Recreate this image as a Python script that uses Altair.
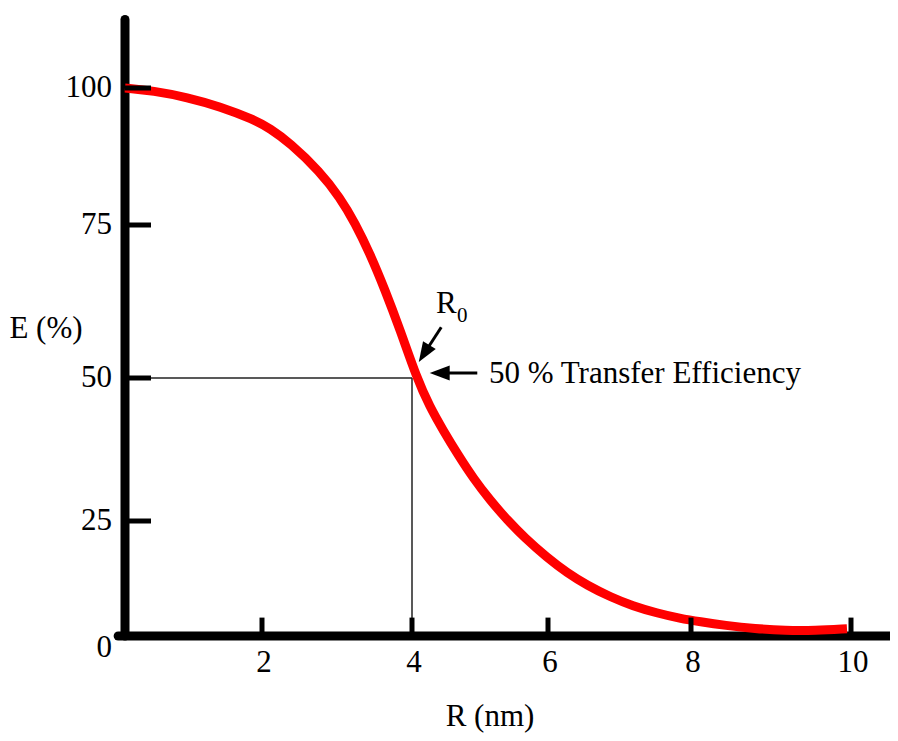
import altair as alt
import pandas as pd

# ---- data ----
r_nm = [0.0, 0.41, 0.91, 1.39, 1.87, 2.11, 2.37, 2.77, 3.04, 3.24, 3.44, 3.64,
        3.84, 4.07, 4.26, 4.46, 4.68, 4.90, 5.15, 5.40, 5.66, 5.99, 6.27,
        6.55, 6.87, 7.19, 7.52, 7.85, 8.11, 8.43, 8.80, 9.18, 9.55, 9.95]
e_pct = [100.0, 99.5, 98.3, 96.6, 94.3, 92.6, 90.0, 84.8, 80.0, 75.4, 70.3, 64.4,
         57.9, 50.0, 45.0, 40.8, 36.5, 32.5, 28.6, 25.2, 21.3, 17.0, 13.7,
         11.0, 8.5, 6.5, 5.0, 3.8, 3.1, 2.3, 1.6, 1.2, 1.2, 1.6]

x_ticks = [2, 4, 6, 8, 10]
x_tick_labels = ["2", "4", "6", "8", "10"]
y_ticks = [25, 50, 75, 100]
y_tick_labels = ["25", "50", "75", "100"]
r0 = 4.0
e_half = 50.0

FONT = "Liberation Serif"
FS = 31

# hand-drawn axes: piecewise linear scales
xs = alt.Scale(domain=[0, 2, 4, 6, 8, 10], range=[117, 254, 404, 540, 683, 843],
               nice=False, zero=False)
ys = alt.Scale(domain=[0, 25, 50, 75, 100], range=[628, 513, 370, 217, 80],
               nice=False, zero=False)


def X(f):
    return alt.X(f, type="quantitative", scale=xs, axis=None)


def Y(f):
    return alt.Y(f, type="quantitative", scale=ys, axis=None)


curve_df = pd.DataFrame({"R": r_nm, "E": e_pct})

# reference lines at R0 / 50 %
ref_df = pd.DataFrame({
    "x": [0.0, r0], "x2": [r0, r0],
    "y": [e_half, 0.0], "y2": [e_half, e_half],
})
ref = alt.Chart(ref_df).mark_rule(color="#222222", strokeWidth=1.5).encode(
    x=X("x"), x2="x2", y=Y("y"), y2="y2")

# axis lines
xaxis_df = pd.DataFrame({"x": [-0.1], "x2": [10.5], "y": [0.0]})
xaxis = alt.Chart(xaxis_df).mark_rule(color="black", strokeWidth=9, strokeCap="round").encode(
    x=X("x"), x2="x2", y=Y("y"))
yaxis_df = pd.DataFrame({"x": [0.0], "y": [0.0], "y2": [112.5]})
yaxis = alt.Chart(yaxis_df).mark_rule(color="black", strokeWidth=9, strokeCap="round").encode(
    x=X("x"), y=Y("y"), y2="y2")

curve = alt.Chart(curve_df).mark_line(color="#ff0000", strokeWidth=9,
                                      interpolate="basis").encode(
    x=X("R"), y=Y("E"))

# ticks (inward)
yt_df = pd.DataFrame({"v": y_ticks, "x0": 0.0, "x1": 0.38, "lab": y_tick_labels})
ytk = alt.Chart(yt_df).mark_rule(color="black", strokeWidth=5).encode(
    x=X("x0"), x2="x1", y=Y("v"))
xt_df = pd.DataFrame({"v": x_ticks, "y0": 0.0, "y1": 4.0, "lab": x_tick_labels})
xtk = alt.Chart(xt_df).mark_rule(color="black", strokeWidth=5).encode(
    x=X("v"), y=Y("y0"), y2="y1")

# tick labels
ylab = alt.Chart(yt_df).mark_text(font=FONT, fontSize=FS, align="right", baseline="middle",
                                  dx=-13, color="black").encode(
    x=X("x0"), y=Y("v"), text="lab:N")
zero_df = pd.DataFrame({"x": [0.0], "y": [0.0], "lab": ["0"]})
zlab = alt.Chart(zero_df).mark_text(font=FONT, fontSize=FS, align="right", baseline="middle",
                                    dx=-13, dy=12, color="black").encode(
    x=X("x"), y=Y("y"), text="lab:N")
xlab = alt.Chart(xt_df).mark_text(font=FONT, fontSize=FS, align="center", baseline="middle",
                                  dx=2, dy=27, color="black").encode(
    x=X("v"), y=Y("y0"), text="lab:N")

# axis titles
xtitle = alt.Chart(pd.DataFrame({"t": ["R (nm)"]})).mark_text(
    font=FONT, fontSize=FS, align="center", baseline="middle", color="black").encode(
    x=alt.value(482), y=alt.value(709), text="t:N")
ytitle = alt.Chart(pd.DataFrame({"t": ["E (%)"]})).mark_text(
    font=FONT, fontSize=FS, align="center", baseline="middle", color="black").encode(
    x=alt.value(38), y=alt.value(321), text="t:N")

# annotations
pt_df = pd.DataFrame({"x": [r0], "y": [e_half]})
r_lab = alt.Chart(pt_df).mark_text(font=FONT, fontSize=FS, align="left", baseline="alphabetic",
                                   dx=24, dy=-65, color="black", text="R").encode(
    x=X("x"), y=Y("y"))
r_sub = alt.Chart(pt_df).mark_text(font=FONT, fontSize=21, align="left", baseline="alphabetic",
                                   dx=45, dy=-56, color="black", text="0").encode(
    x=X("x"), y=Y("y"))
eff_lab = alt.Chart(pt_df).mark_text(font=FONT, fontSize=FS, align="left", baseline="alphabetic",
                                     dx=77, dy=5, color="black",
                                     text="50 % Transfer Efficiency").encode(
    x=X("x"), y=Y("y"))

shaft_df = pd.DataFrame({"x": [4.43, 4.96], "y": [58.3, 50.8],
                         "x2": [4.22, 4.45], "y2": [54.7, 50.8]})
shafts = alt.Chart(shaft_df).mark_rule(color="black", strokeWidth=3).encode(
    x=X("x"), y=Y("y"), x2="x2", y2="y2")
head_df = pd.DataFrame({"x": [4.10, 4.26], "y": [52.6, 50.8], "ang": [212, 270]})
heads = alt.Chart(head_df).mark_point(shape="M0,0 L-0.75,2 L0.75,2 Z", size=400, filled=True,
                                      color="black", opacity=1, strokeWidth=0).encode(
    x=X("x"), y=Y("y"), angle=alt.Angle("ang:Q", scale=None))

chart = alt.layer(ref, xaxis, yaxis, curve, ytk, xtk, ylab, zlab, xlab, xtitle, ytitle,
                  r_lab, r_sub, eff_lab, shafts, heads).properties(
    width=882, height=725, padding=0,
    autosize=alt.AutoSizeParams(type="none"),
    background="white",
).configure_view(strokeWidth=0)

chart.save("out.html", embed_options={"renderer": "svg", "actions": False})
